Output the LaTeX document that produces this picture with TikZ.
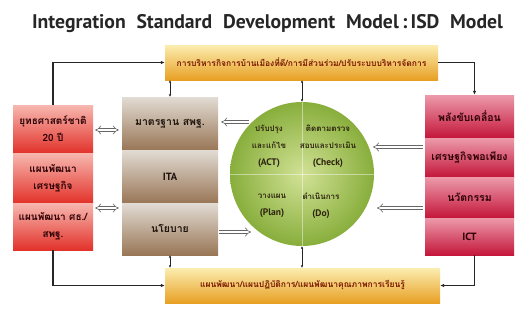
\documentclass[tikz,border=0pt]{standalone}
\usepackage{fontspec}
\setmainfont{PT Sans}
\newfontfamily\thaif[Script=Thai]{Loma}
\usetikzlibrary{arrows.meta}
\definecolor{barhi}{HTML}{FBEDB0}
\definecolor{barlo}{HTML}{E8A024}
\definecolor{bartext}{HTML}{7A1800}
\definecolor{lhi}{HTML}{F7B8B0}
\definecolor{llo}{HTML}{E2322A}
\definecolor{bhi}{HTML}{E2DCD4}
\definecolor{blo}{HTML}{997656}
\definecolor{btext}{HTML}{1E140C}
\definecolor{rhi}{HTML}{EC9AAA}
\definecolor{rlo}{HTML}{C4163A}
\definecolor{redtext}{HTML}{2A0004}
\definecolor{gin}{HTML}{D2E296}
\definecolor{gout}{HTML}{88AE3C}
\definecolor{ctext}{HTML}{2E2410}
\begin{document}
\begin{tikzpicture}[x=1pt,y=-1pt,
  titlest/.style={inner sep=0, font=\fontsize{19.7}{22}\selectfont\bfseries, text=black!85},
  bar/.style={inner sep=0, top color=barhi, bottom color=barlo, draw=none},
  bartxt/.style={inner sep=0, font=\thaif\fontsize{8.5}{10}\selectfont\bfseries, text=bartext},
  lsec/.style={inner sep=0, minimum width=80, top color=lhi, bottom color=llo},
  bsec/.style={inner sep=0, minimum width=96, top color=bhi, bottom color=blo},
  rsec/.style={inner sep=0, minimum width=89, top color=rhi, bottom color=rlo},
  redtxt/.style={inner sep=0, align=center, font=\thaif\fontsize{10}{17}\selectfont\bfseries, text=redtext},
  browntxt/.style={inner sep=0, align=center, font=\thaif\fontsize{10.5}{17}\selectfont\bfseries, text=btext},
  ctxt/.style={inner sep=0, align=center, font=\thaif\fontsize{8}{17}\selectfont\bfseries, text=ctext},
  conn/.style={line width=1.2pt, draw=black!85, -{Latex[length=4pt,width=3.5pt]}},
  dbl/.style={line width=0.8pt, draw=black!85, {Latex[length=2.5pt,width=2.5pt]}-{Latex[length=2.5pt,width=2.5pt]}},
  hollow/.style={line width=0.6pt, draw=black!60, double=white, double distance=2.6pt}
]
\useasboundingbox (0,0) rectangle (516,332);

% title
\node[titlest] (title) at (267.5,24) {\makebox[471pt][s]{Integration Standard Development Model\,:\,ISD Model}};

% bars
\node[bar, minimum width=273, minimum height=35] (T) at (301.5,62.5) {};
\node[bartxt] (Tt) at (T) {การบริหารกิจการบ้านเมืองที่ดี/การมีส่วนร่วม/ปรับระบบบริหารจัดการ};
\node[bar, minimum width=275, minimum height=35] (Bt) at (302.5,285.5) {};
\node[bartxt] (Btt) at (Bt) {แผนพัฒนา/แผนปฏิบัติการ/แผนพัฒนาคุณภาพการเรียนรู้};

% left column
\node[lsec, minimum height=48] (L1) at (53,129) {};
\node[lsec, minimum height=50] (L2) at (53,178) {};
\node[lsec, minimum height=47] (L3) at (53,226.5) {};
\node[redtxt] (L1t) at (L1) {ยุทธศาสตร์ชาติ\\20 ปี};
\node[redtxt] (L2t) at (L2) {แผนพัฒนา\\เศรษฐกิจ};
\node[redtxt] (L3t) at (L3) {แผนพัฒนา ศธ./\\สพฐ.};

% brown column
\node[bsec, minimum height=53] (B1) at (170,123.5) {};
\node[bsec, minimum height=53] (B2) at (170,176.5) {};
\node[bsec, minimum height=52] (B3) at (170,229) {};
\node[browntxt] (B1t) at (B1) {มาตรฐาน สพฐ.};
\node[browntxt, font=\fontsize{10.5}{12}\selectfont\bfseries] (B2t) at (B2) {ITA};
\node[browntxt] (B3t) at (B3) {นโยบาย};

% right column
\node[rsec, minimum height=43] (R1) at (469.5,116.5) {};
\node[rsec, minimum height=39] (R2) at (469.5,157.5) {};
\node[rsec, minimum height=41] (R3) at (469.5,197.5) {};
\node[rsec, minimum height=37] (R4) at (469.5,236.5) {};
\node[redtxt, font=\thaif\fontsize{10.5}{12}\selectfont\bfseries] (R1t) at (R1) {พลังขับเคลื่อน};
\node[redtxt, font=\thaif\fontsize{10.5}{12}\selectfont\bfseries] (R2t) at (R2) {เศรษฐกิจพอเพียง};
\node[redtxt, font=\thaif\fontsize{10.5}{12}\selectfont\bfseries] (R3t) at (R3) {นวัตกรรม};
\node[redtxt, font=\fontsize{10.5}{12}\selectfont\bfseries] (R4t) at (R4) {ICT};

% circle
\node[circle, minimum size=144, inner sep=0, inner color=gin, outer color=gout] (C) at (302,174) {};
\draw[white, opacity=0.45, line width=0.8pt] (C.north) -- (C.south);
\draw[white, opacity=0.45, line width=0.8pt] (C.west) -- (C.east);
\node[ctxt] (act) at (269,146) {ปรับปรุง\\และแก้ไข\\{\fontspec{PT Sans}\bfseries\fontsize{9.5}{17}\selectfont(ACT)}};
\node[ctxt] (chk) at (328,146) {ติดตามตรวจ\\สอบและประเมิน\\{\fontspec{PT Sans}\bfseries\fontsize{9.5}{17}\selectfont(Check)}};
\node[ctxt] (pln) at (272,206) {วางแผน\\{\fontspec{PT Sans}\bfseries\fontsize{9.5}{17}\selectfont(Plan)}};
\node[ctxt] (doo) at (321,206) {ดำเนินการ\\{\fontspec{PT Sans}\bfseries\fontsize{9.5}{17}\selectfont(Do)}};

% helper coordinates for hollow arrows
\coordinate (y1) at (0,130);
\coordinate (y2) at (0,208);
\coordinate (a1) at (249,122);
\coordinate (a2) at (251,232);
\coordinate (a3) at (373,147);
\coordinate (a4) at (377,208);

% hollow arrows
\draw[hollow, {Implies}-{Implies}] ([xshift=2]L1.east |- y1) -- ([xshift=-3]B1.west |- y1);
\draw[hollow, {Implies}-{Implies}] ([xshift=2]L3.east |- y2) -- ([xshift=-3]B3.west |- y2);
\draw[hollow, -{Implies}] (a1) -- ([xshift=3]B1.east |- a1);
\draw[hollow, -{Implies}] ([xshift=1]B3.east |- a2) -- (a2);
\draw[hollow, -{Implies}] ([xshift=-2]R2.west |- a3) -- (a3);
\draw[hollow, -{Implies}] ([xshift=-2]R3.west |- a4) -- (a4);

% connectors
\draw[conn] (L1.north) |- (T.west);
\draw[conn] (T.east) -| ([xshift=5]R1.north);
\draw[conn] (L3.south) |- (Bt.west);
\draw[conn] ([xshift=5]R4.south) |- (Bt.east);
\draw[dbl] (T.south -| B1.north) -- (B1.north);
\draw[dbl] (T.south -| C.north) -- (C.north);
\draw[dbl] (B3.south) -- (B3.south |- Bt.north);
\draw[dbl] (C.south) -- (C.south |- Bt.north);
\end{tikzpicture}
\end{document}
